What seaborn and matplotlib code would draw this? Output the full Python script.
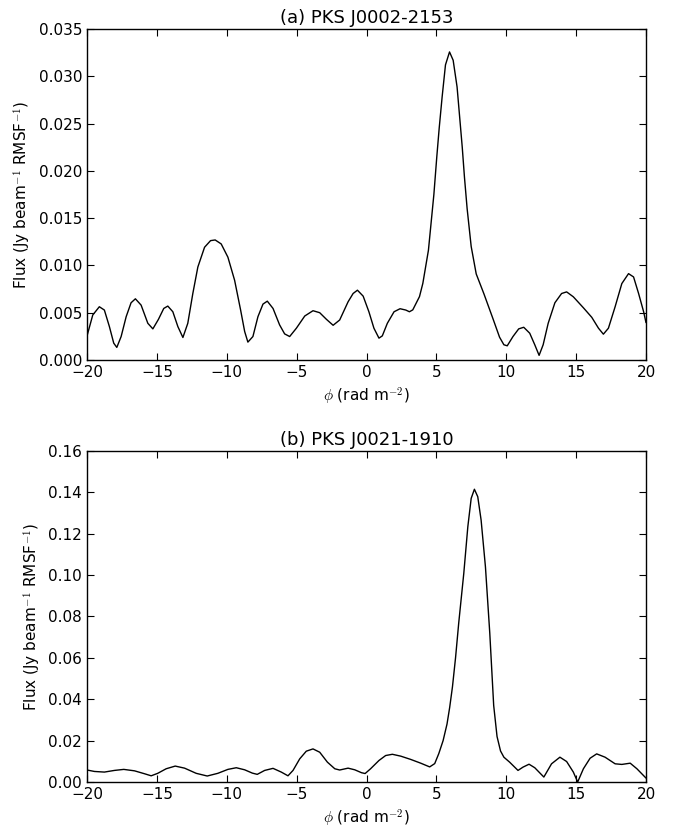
import numpy as np
import matplotlib
matplotlib.use("Agg")
import matplotlib.pyplot as plt
import pandas as pd
import seaborn as sns

# Faraday depth spectra
phi_a = [-20.0, -19.59, -19.12, -18.76, -18.4, -18.09, -17.87, -17.56, -17.2, -16.85,
         -16.54, -16.13, -15.65, -15.29, -14.89, -14.51, -14.22, -13.86, -13.5, -13.14,
         -12.79, -12.43, -12.07, -11.59, -11.16, -10.83, -10.4, -9.92, -9.44, -9.01,
         -8.72, -8.49, -8.13, -7.77, -7.41, -7.1, -6.69, -6.22, -5.86, -5.5,
         -5.02, -4.42, -3.83, -3.35, -2.87, -2.39, -1.92, -1.32, -0.96, -0.65,
         -0.24, 0.17, 0.53, 0.89, 1.13, 1.49, 1.97, 2.4, 2.81, 3.07,
         3.31, 3.79, 4.03, 4.43, 4.82, 5.03, 5.2, 5.41, 5.65, 5.94,
         6.2, 6.48, 6.85, 7.01, 7.2, 7.49, 7.85, 8.4, 9.04, 9.52,
         9.83, 10.07, 10.48, 10.89, 11.25, 11.68, 12.04, 12.35, 12.64, 13.0,
         13.48, 13.96, 14.32, 14.8, 15.52, 16.12, 16.6, 16.95, 17.31, 17.79,
         18.27, 18.75, 19.11, 19.47, 19.83, 20.0]
flux_a = [0.00255, 0.00476, 0.00563, 0.00528, 0.00353, 0.00178, 0.00133, 0.00248, 0.00458, 0.00605,
          0.00647, 0.0058, 0.00388, 0.00329, 0.0043, 0.00545, 0.0057, 0.0051, 0.00353, 0.00238,
          0.00388, 0.00703, 0.00983, 0.01192, 0.01262, 0.01269, 0.01227, 0.01087, 0.00843, 0.00528,
          0.00301, 0.00189, 0.00248, 0.00458, 0.00591, 0.00622, 0.00545, 0.00371, 0.00276, 0.00248,
          0.00336, 0.00465, 0.00521, 0.005, 0.0043, 0.00367, 0.00423, 0.00615, 0.00703, 0.00738,
          0.00675, 0.0051, 0.00336, 0.00231, 0.00255, 0.00388, 0.0051, 0.00542, 0.00528, 0.0051,
          0.0053, 0.0067, 0.0081, 0.0116, 0.0175, 0.0215, 0.0245, 0.0278, 0.0312, 0.03257,
          0.03169, 0.02887, 0.0225, 0.0193, 0.0160, 0.0120, 0.0091, 0.0070, 0.0044, 0.00241,
          0.00161, 0.0015, 0.00248, 0.00329, 0.00346, 0.00283, 0.00161, 0.00049, 0.00161, 0.00388,
          0.00605, 0.00703, 0.0072, 0.00668, 0.00552, 0.00451, 0.00336, 0.00273, 0.00336, 0.00563,
          0.00808, 0.00913, 0.00878, 0.00703, 0.0051, 0.00395]

phi_b = [-20.0, -19.47, -18.76, -18.04, -17.37, -16.6, -15.89, -15.41, -14.94, -14.34,
         -13.69, -13.02, -12.19, -11.4, -10.64, -9.92, -9.32, -8.72, -8.17, -7.82,
         -7.29, -6.69, -6.1, -5.62, -5.26, -4.78, -4.31, -3.83, -3.35, -2.8,
         -2.27, -1.92, -1.32, -0.84, -0.36, -0.1, 0.29, 0.89, 1.37, 1.85,
         2.45, 3.17, 3.88, 4.52, 4.88, 5.17, 5.48, 5.76, 5.95, 6.15,
         6.37, 6.6, 6.96, 7.25, 7.49, 7.72, 7.96, 8.2, 8.51, 8.82,
         9.1, 9.34, 9.59, 9.83, 10.24, 10.84, 11.2, 11.63, 12.04, 12.69,
         13.24, 13.84, 14.32, 14.8, 15.11, 15.52, 16.0, 16.47, 17.07, 17.79,
         18.27, 18.87, 19.35, 20.0]
flux_b = [0.0058, 0.0051, 0.0048, 0.0056, 0.0061, 0.0054, 0.004, 0.003, 0.0042, 0.0064,
          0.0077, 0.0067, 0.0042, 0.0029, 0.0042, 0.0061, 0.0069, 0.0059, 0.0043, 0.0037,
          0.0056, 0.0066, 0.0048, 0.003, 0.0056, 0.0112, 0.0149, 0.016, 0.0144, 0.0096,
          0.0064, 0.0058, 0.0067, 0.0059, 0.0045, 0.0041, 0.0064, 0.0104, 0.0128, 0.0134,
          0.0125, 0.0109, 0.0091, 0.0073, 0.0089, 0.0137, 0.020, 0.028, 0.036, 0.046,
          0.060, 0.077, 0.1008, 0.1234, 0.1371, 0.1415, 0.1379, 0.1266, 0.104, 0.072,
          0.037, 0.022, 0.015, 0.012, 0.0096, 0.0056, 0.0072, 0.0086, 0.0069, 0.0024,
          0.0088, 0.012, 0.0099, 0.0048, 0.0, 0.0064, 0.0115, 0.0136, 0.012, 0.0088,
          0.0085, 0.0091, 0.0064, 0.0019]

titles = ["(a) PKS J0002-2153", "(b) PKS J0021-1910"]

sns.set_style("ticks")
plt.rcParams['font.family'] = ['DejaVu Sans']
plt.rcParams['mathtext.fontset'] = 'cm'

fig = plt.figure(figsize=(6.8, 8.27), dpi=100)
ax_a = fig.add_axes([0.128, 0.5647, 0.822, 0.4003])
ax_b = fig.add_axes([0.128, 0.0544, 0.822, 0.4003])

panels = [
    (ax_a, phi_a, flux_a, np.arange(0, 0.0351, 0.005), "{:.3f}"),
    (ax_b, phi_b, flux_b, np.arange(0, 0.161, 0.02), "{:.2f}"),
]

for (ax, phi, flux, yt, fmt), title in zip(panels, titles):
    df = pd.DataFrame({"phi": phi, "flux": flux})
    sns.lineplot(data=df, x="phi", y="flux", ax=ax, color="black", lw=1.0,
                 sort=False, estimator=None)
    ax.set_xlim(-20, 20)
    ax.set_ylim(yt[0], yt[-1])
    ax.set_xticks(np.arange(-20, 21, 5))
    ax.set_yticks(yt)
    ax.set_yticklabels([fmt.format(v) for v in yt])
    ax.tick_params(direction="in", top=True, right=True, length=5, width=0.8,
                   labelsize=11, colors="black")
    for s in ax.spines.values():
        s.set_color("black")
        s.set_linewidth(1.0)
    ax.set_title(title, fontsize=13, pad=4, color="black")
    ax.set_xlabel(r"$\phi$ (rad m$^{-2}$)", fontsize=11, color="black")
    ax.set_ylabel(r"Flux (Jy beam$^{-1}$ RMSF$^{-1}$)", fontsize=11, color="black")

fig.savefig("out.png", dpi=100)
